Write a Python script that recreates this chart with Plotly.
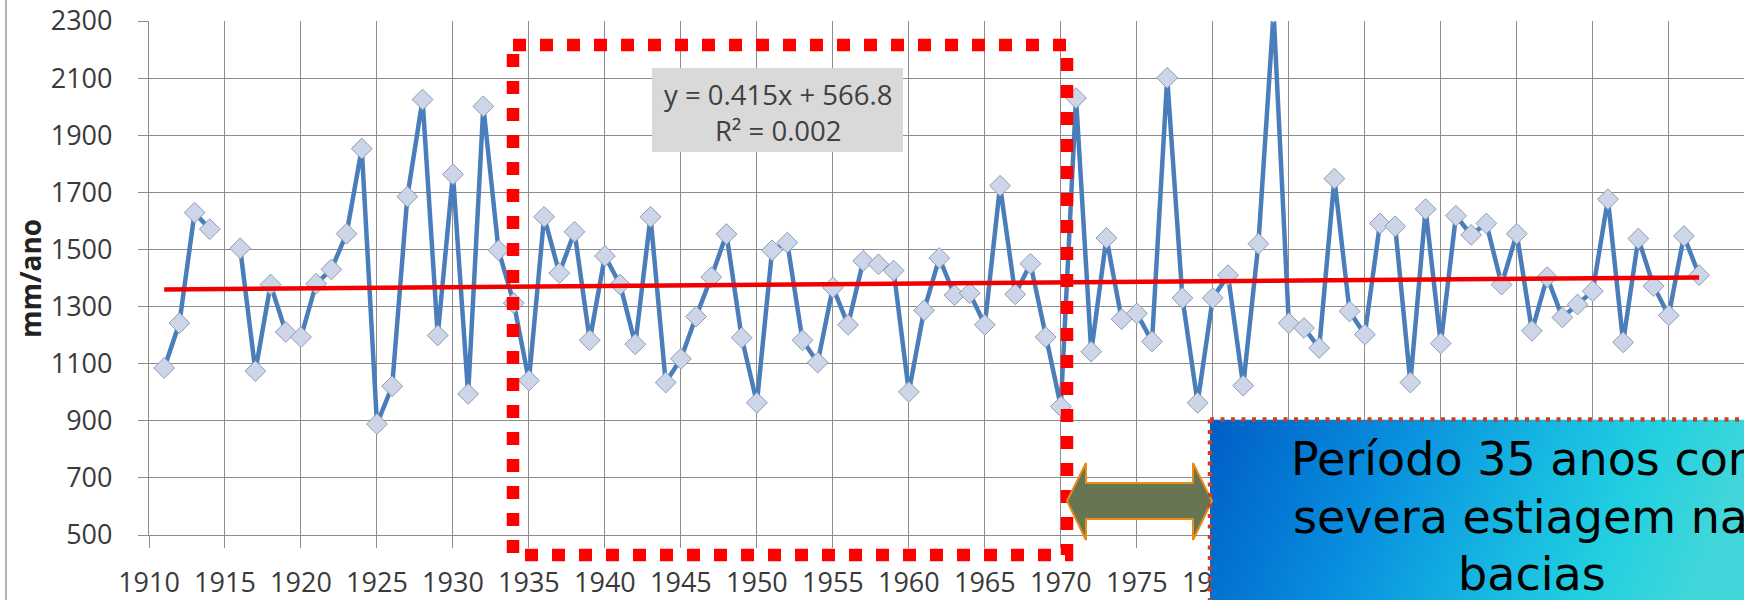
import base64
import plotly.graph_objects as go

# Annual rainfall series (mm/ano); 1915 has no record
years = list(range(1911, 2013))
rain = [
    1085, 1242, 1629, 1571, None, 1504, 1074, 1377, 1211, 1193,   # 1911-1920
    1380, 1430, 1555, 1853, 889, 1021, 1685, 2025, 1199, 1763,    # 1921-1930
    994, 2001, 1497, 1312, 1041, 1614, 1417, 1562, 1182, 1477,    # 1931-1940
    1377, 1168, 1614, 1034, 1117, 1265, 1403, 1554, 1191, 963,    # 1941-1950
    1497, 1524, 1182, 1104, 1367, 1236, 1460, 1448, 1426, 1001,   # 1951-1960
    1287, 1470, 1340, 1347, 1236, 1723, 1343, 1450, 1193, 950,    # 1961-1970
    2030, 1142, 1540, 1256, 1276, 1178, 2101, 1330, 963, 1330,    # 1971-1980
    1410, 1023, 1520, 2330, 1242, 1225, 1155, 1748, 1283, 1202,   # 1981-1990
    1591, 1581, 1034, 1641, 1171, 1618, 1551, 1591, 1377, 1555,   # 1991-2000
    1215, 1403, 1262, 1307, 1354, 1676, 1175, 1538, 1372, 1269,   # 2001-2010
    1547, 1410,                                                    # 2011-2012
]

# Linear trend as reported on the chart
trend_slope = 0.415
trend_intercept = 566.8
trend_r2 = 0.002
trend = [trend_slope * y + trend_intercept for y in years]

x_ticks = list(range(1910, 2015, 5))
# labels from 1985 on sit underneath the callout box
x_ticktext = [str(v) if v <= 1980 else "" for v in x_ticks]
y_ticks = list(range(500, 2301, 200))

W, H = 1744, 600
ML, MR, MT, MB = 149, 0, 21, 65
PX_PER_YEAR = 15.19


def fx(p):
    """pixel column -> paper x"""
    return (p - ML) / (W - ML - MR)


def fy(p):
    """pixel row -> paper y"""
    return (H - MB - p) / (H - MT - MB)


TICK_FONT = dict(family="Open Sans", size=27, color="#3a3a3a")
GRID = "#8c8c8c"

fig = go.Figure()

fig.add_trace(go.Scatter(
    x=years, y=rain, mode="lines+markers", connectgaps=False,
    line=dict(color="#4a7ebb", width=4.5),
    marker=dict(symbol="diamond", size=16, color="#cdd6e8",
                line=dict(color="#8e9bb3", width=1)),
    showlegend=False, cliponaxis=True,
))

fig.add_trace(go.Scatter(
    x=years, y=trend, mode="lines",
    line=dict(color="#f00000", width=4.5),
    showlegend=False,
))

x_right = 1910 + (W - ML - MR) / PX_PER_YEAR - 0.05

fig.update_xaxes(
    range=[1910, x_right], tickmode="array", tickvals=x_ticks,
    ticktext=x_ticktext,
    showgrid=True, gridcolor=GRID, gridwidth=1.2,
    showline=True, linecolor=GRID, linewidth=1.2,
    ticks="outside", ticklen=12, tickcolor=GRID, tickwidth=1.2,
    ticklabelstandoff=11, tickfont=TICK_FONT, zeroline=False,
    automargin=False,
)
fig.update_yaxes(
    range=[500, 2300], tickmode="array", tickvals=y_ticks,
    ticktext=[str(v) for v in y_ticks],
    showgrid=True, gridcolor=GRID, gridwidth=1.2,
    showline=True, linecolor=GRID, linewidth=1.2,
    ticks="outside", ticklen=10, tickcolor=GRID, tickwidth=1.2,
    ticklabelstandoff=20, tickfont=TICK_FONT, zeroline=False,
    automargin=False,
)

shapes = []

# outer chart frame (left side)
shapes.append(dict(type="line", xref="paper", yref="paper",
                   x0=fx(6), x1=fx(6), y0=fy(0), y1=fy(H),
                   line=dict(color="#9a9a9a", width=1.5)))

# highlighted 1934-1970 window
shapes.append(dict(type="rect", xref="paper", yref="paper",
                   x0=fx(513), x1=fx(1067), y0=fy(45), y1=fy(555),
                   line=dict(color="#ff0000", width=12.5, dash="13px,14px"),
                   fillcolor="rgba(0,0,0,0)", layer="above"))

# equation box background
shapes.append(dict(type="rect", xref="paper", yref="paper",
                   x0=fx(652), x1=fx(903), y0=fy(68), y1=fy(152),
                   line=dict(width=0), fillcolor="#d9d9d9", layer="above"))

# double-headed arrow
pts = [(1067, 501), (1086, 463), (1086, 483), (1193, 483), (1193, 463),
       (1212, 501), (1193, 540), (1193, 519), (1086, 519), (1086, 540)]
path = "M " + " L ".join(f"{fx(a):.5f},{fy(b):.5f}" for a, b in pts) + " Z"
shapes.append(dict(type="path", xref="paper", yref="paper", path=path,
                   fillcolor="#677552", line=dict(color="#e88c1c", width=2),
                   layer="above"))

# dotted border of the callout box
shapes.append(dict(type="line", xref="paper", yref="paper",
                   x0=fx(1210), x1=fx(W + 10), y0=fy(419.5), y1=fy(419.5),
                   line=dict(color="#c0432a", width=4.5, dash="4px,6.5px"),
                   layer="above"))
shapes.append(dict(type="line", xref="paper", yref="paper",
                   x0=fx(1210), x1=fx(1210), y0=fy(419.5), y1=fy(H + 10),
                   line=dict(color="#c0432a", width=4.5, dash="4px,6.5px"),
                   layer="above"))

# gradient fill of the callout box
grad_svg = (
    '<svg xmlns="http://www.w3.org/2000/svg" width="540" height="190" '
    'viewBox="0 0 540 190" preserveAspectRatio="none">'
    '<defs><linearGradient id="g" x1="0" y1="0" x2="1" y2="0.15">'
    '<stop offset="0" stop-color="#005ec6"/>'
    '<stop offset="0.35" stop-color="#088ede"/>'
    '<stop offset="0.62" stop-color="#16b6e2"/>'
    '<stop offset="0.82" stop-color="#22d0e0"/>'
    '<stop offset="1" stop-color="#40d6da"/>'
    '</linearGradient></defs>'
    '<rect width="540" height="190" fill="url(#g)"/></svg>'
)
grad_uri = "data:image/svg+xml;base64," + base64.b64encode(grad_svg.encode()).decode()

images = [dict(source=grad_uri, xref="paper", yref="paper",
               x=fx(1210), y=fy(419.5), sizex=fx(1750) - fx(1210),
               sizey=fy(419.5) - fy(H + 10), xanchor="left", yanchor="top",
               sizing="stretch", layer="above")]

annotations = []

# y-axis title
annotations.append(dict(xref="paper", yref="paper", x=fx(30), y=fy(279),
                        text="<b>mm/ano</b>", textangle=-90, showarrow=False,
                        font=dict(family="Open Sans", size=28, color="#222222"),
                        xanchor="center", yanchor="middle"))

# trend equation
annotations.append(dict(xref="paper", yref="paper", x=fx(777.5), y=fy(112),
                        text=f"y = {trend_slope}x + {trend_intercept}<br>"
                             f"R² = {trend_r2}",
                        showarrow=False, align="center",
                        font=dict(family="Open Sans", size=27.5, color="#404040"),
                        xanchor="center", yanchor="middle"))

# callout text
callout = ["Período 35 anos com", "severa estiagem nas", "bacias"]
for line, cy in zip(callout, [459, 517, 574]):
    annotations.append(dict(xref="paper", yref="paper", x=fx(1532), y=fy(cy),
                            text=line, showarrow=False,
                            font=dict(family="DejaVu Sans", size=46,
                                      color="#000000"),
                            xanchor="center", yanchor="middle"))

fig.update_layout(
    width=W, height=H,
    margin=dict(l=ML, r=MR, t=MT, b=MB, pad=0),
    paper_bgcolor="white", plot_bgcolor="white",
    shapes=shapes, images=images, annotations=annotations,
    showlegend=False,
)

fig.write_html("out.html")
